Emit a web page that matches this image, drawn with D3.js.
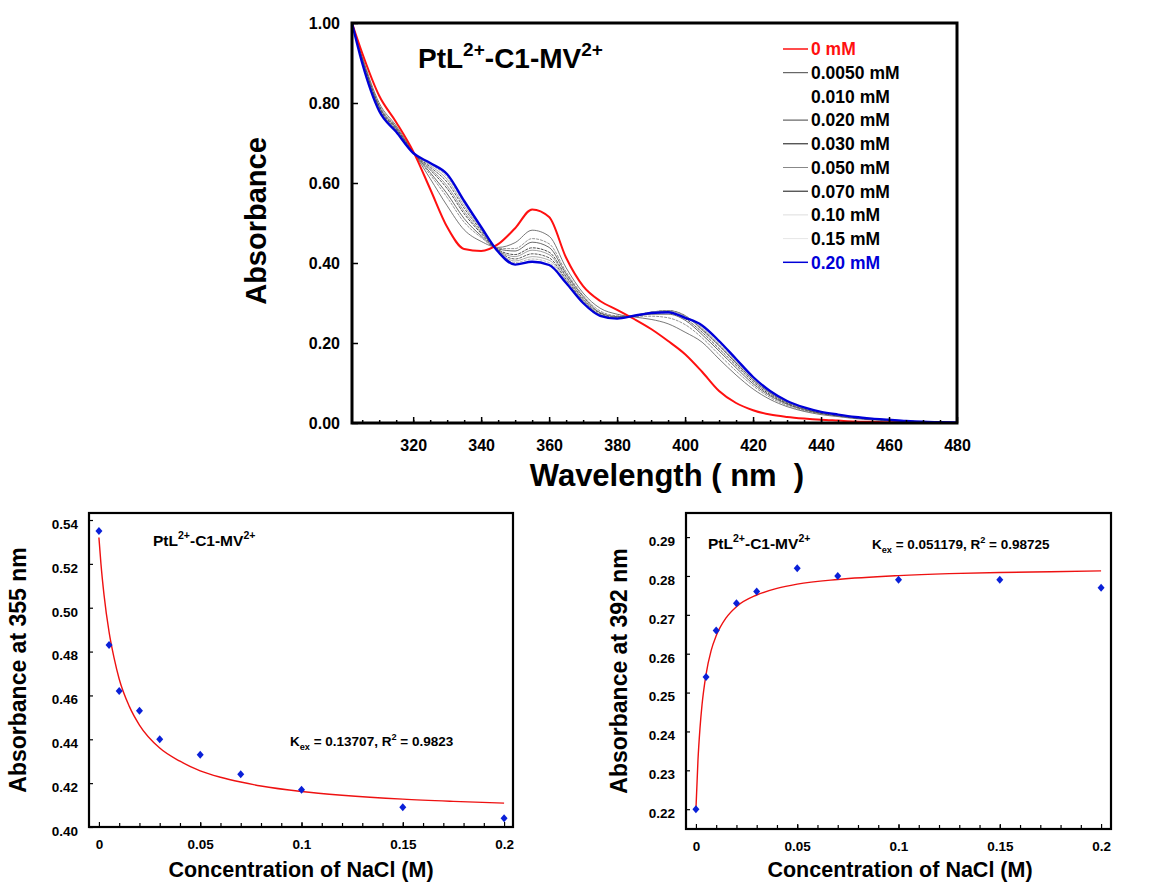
<!DOCTYPE html>
<html>
<head>
<meta charset="utf-8">
<script src="https://cdn.jsdelivr.net/npm/d3@7"></script>
<style>
  body { margin: 0; background: #fff; }
  svg { display: block; font-family: "Liberation Sans", Arial, sans-serif; font-weight: bold; }
</style>
</head>
<body>
<svg id="chart" width="1173" height="884"></svg>
<script>
// wavelength grid (nm) for the spectra
var wavelengths = [302, 305, 310, 315, 320, 325, 330, 335, 340, 345, 350, 355, 360, 365, 370, 375, 380, 385, 390,
  395, 400, 405, 410, 415, 420, 425, 430, 435, 440, 445, 450, 455, 460, 465, 470, 475, 480];

// absorbance spectra, one per NaCl concentration
var abs_0 = [1.000, 0.925, 0.818, 0.752, 0.679, 0.585, 0.490, 0.435, 0.430, 0.447, 0.487, 0.534, 0.515, 0.413, 0.342, 0.305, 0.283, 0.260, 0.235,
  0.205, 0.172, 0.128, 0.080, 0.050, 0.032, 0.021, 0.015, 0.011, 0.008, 0.006, 0.004, 0.003, 0.002, 0.002, 0.001, 0.001, 0.000];
var abs_0005 = [1.000, 0.916, 0.800, 0.743, 0.678, 0.611, 0.543, 0.483, 0.454, 0.439, 0.451, 0.482, 0.467, 0.388, 0.325, 0.287, 0.272, 0.265, 0.259,
  0.248, 0.227, 0.202, 0.160, 0.120, 0.085, 0.059, 0.041, 0.029, 0.021, 0.016, 0.011, 0.008, 0.006, 0.004, 0.002, 0.002, 0.001];
var abs_001 = [1.000, 0.913, 0.795, 0.740, 0.677, 0.621, 0.564, 0.502, 0.464, 0.436, 0.436, 0.461, 0.448, 0.378, 0.319, 0.280, 0.268, 0.267, 0.267,
  0.263, 0.246, 0.213, 0.171, 0.130, 0.093, 0.064, 0.044, 0.031, 0.023, 0.017, 0.012, 0.009, 0.006, 0.004, 0.003, 0.002, 0.001];
var abs_002 = [1.000, 0.911, 0.792, 0.738, 0.677, 0.626, 0.573, 0.511, 0.468, 0.435, 0.430, 0.452, 0.439, 0.373, 0.316, 0.276, 0.266, 0.267, 0.272,
  0.272, 0.257, 0.221, 0.180, 0.138, 0.098, 0.068, 0.047, 0.033, 0.024, 0.018, 0.013, 0.009, 0.007, 0.004, 0.003, 0.002, 0.001];
var abs_003 = [1.000, 0.908, 0.789, 0.735, 0.676, 0.633, 0.586, 0.523, 0.474, 0.433, 0.421, 0.438, 0.427, 0.367, 0.311, 0.274, 0.264, 0.268, 0.274,
  0.276, 0.261, 0.227, 0.186, 0.144, 0.103, 0.071, 0.049, 0.035, 0.025, 0.019, 0.013, 0.010, 0.007, 0.005, 0.003, 0.002, 0.001];
var abs_005 = [1.000, 0.907, 0.787, 0.734, 0.676, 0.636, 0.593, 0.529, 0.477, 0.432, 0.416, 0.432, 0.421, 0.364, 0.309, 0.271, 0.263, 0.269, 0.277,
  0.281, 0.269, 0.232, 0.193, 0.149, 0.107, 0.074, 0.051, 0.036, 0.026, 0.020, 0.014, 0.010, 0.007, 0.005, 0.003, 0.002, 0.001];
var abs_007 = [1.000, 0.905, 0.785, 0.732, 0.676, 0.640, 0.602, 0.537, 0.481, 0.431, 0.410, 0.423, 0.413, 0.359, 0.306, 0.270, 0.262, 0.268, 0.277,
  0.281, 0.268, 0.234, 0.194, 0.150, 0.108, 0.075, 0.051, 0.037, 0.026, 0.020, 0.014, 0.010, 0.007, 0.005, 0.003, 0.002, 0.001];
var abs_010 = [1.000, 0.903, 0.783, 0.731, 0.676, 0.644, 0.609, 0.543, 0.484, 0.430, 0.405, 0.416, 0.407, 0.356, 0.304, 0.269, 0.262, 0.268, 0.277,
  0.280, 0.267, 0.236, 0.196, 0.152, 0.109, 0.076, 0.052, 0.037, 0.027, 0.020, 0.014, 0.010, 0.008, 0.005, 0.003, 0.002, 0.001];
var abs_015 = [1.000, 0.902, 0.781, 0.729, 0.675, 0.647, 0.615, 0.549, 0.487, 0.429, 0.401, 0.410, 0.401, 0.353, 0.302, 0.268, 0.261, 0.268, 0.277,
  0.280, 0.267, 0.238, 0.199, 0.155, 0.111, 0.077, 0.053, 0.038, 0.027, 0.020, 0.014, 0.011, 0.008, 0.005, 0.003, 0.002, 0.001];
var abs_020 = [1.000, 0.900, 0.780, 0.728, 0.675, 0.650, 0.622, 0.555, 0.490, 0.428, 0.396, 0.403, 0.395, 0.350, 0.300, 0.268, 0.261, 0.268, 0.275,
  0.277, 0.263, 0.244, 0.205, 0.160, 0.115, 0.080, 0.055, 0.039, 0.028, 0.021, 0.015, 0.011, 0.008, 0.005, 0.003, 0.002, 0.001];

var legend_labels = ["0 mM", "0.0050 mM", "0.010 mM", "0.020 mM", "0.030 mM", "0.050 mM", "0.070 mM", "0.10 mM", "0.15 mM", "0.20 mM"];
var spectra = [abs_0, abs_0005, abs_001, abs_002, abs_003, abs_005, abs_007, abs_010, abs_015, abs_020];

// titration points (NaCl in M)
var nacl = [0, 0.005, 0.01, 0.02, 0.03, 0.05, 0.07, 0.1, 0.15, 0.2];
var a355 = [0.535, 0.483, 0.462, 0.453, 0.440, 0.433, 0.424, 0.417, 0.409, 0.404];
var a392 = [0.220, 0.254, 0.266, 0.273, 0.276, 0.282, 0.280, 0.279, 0.279, 0.277];

// fitted curves
var fit355_x = [0, 0.001, 0.0025, 0.005, 0.0075, 0.01, 0.015, 0.02, 0.03, 0.04, 0.05, 0.06, 0.07, 0.08, 0.1, 0.12, 0.15, 0.175, 0.2];
var fit355_y = [0.532, 0.520, 0.506, 0.489, 0.477, 0.4675, 0.455, 0.4465, 0.436, 0.430, 0.4256, 0.4227, 0.4205, 0.4187, 0.4162, 0.4145, 0.4127, 0.4117, 0.4109];
var fit392_x = [0, 0.001, 0.002, 0.003, 0.005, 0.0075, 0.01, 0.015, 0.02, 0.03, 0.04, 0.05, 0.07, 0.1, 0.125, 0.15, 0.175, 0.2];
var fit392_y = [0.220, 0.2325, 0.2408, 0.2468, 0.2547, 0.2608, 0.2646, 0.2693, 0.2721, 0.2751, 0.2768, 0.2779, 0.2791, 0.2801, 0.2806, 0.2809, 0.2811, 0.2813];

var lineColors = ["#ff1010", "#555", "#777", "#444", "#222", "#888", "#333", "#999", "#aaa", "#0000d8"];
var legendColors = ["#ff1010", "#444", "#fff", "#444", "#111", "#888", "#111", "#ddd", "#e6e6e6", "#0000d8"];
var lineWidths = [2, 0.8, 0.8, 0.8, 0.8, 0.8, 0.8, 0.8, 0.8, 2.4];

var svg = d3.select("#chart");

// text with sub/superscripts; parts = [[text, 0 | 1 sup | -1 sub]]
function richText(g, x, y, size, parts, anchor) {
  var t = g.append("text").attr("x", x).attr("y", y)
    .attr("font-size", size).attr("text-anchor", anchor || "start");
  var shift = 0;
  parts.forEach(function (p) {
    var s = t.append("tspan").text(p[0]);
    var target = p[1] == 1 ? -0.42 * size : (p[1] == -1 ? 0.3 * size : 0);
    s.attr("dy", target - shift);
    if (p[1] != 0) s.attr("font-size", size * 0.68);
    shift = target;
  });
  return t;
}

var titleParts = [["PtL", 0], ["2+", 1], ["-C1-MV", 0], ["2+", 1]];

// ---------------- top spectra chart ----------------
(function () {
  var x = d3.scaleLinear().domain([302, 480]).range([352, 957]);
  var y = d3.scaleLinear().domain([0, 1]).range([423, 23]);
  var g = svg.append("g");

  var line = d3.line()
    .x(function (d, i) { return x(wavelengths[i]); })
    .y(function (d) { return y(d); })
    .curve(d3.curveMonotoneX);

  var order = [1, 2, 3, 4, 5, 6, 7, 8, 0, 9];
  order.forEach(function (k) {
    g.append("path")
      .datum(spectra[k])
      .attr("fill", "none")
      .attr("stroke", lineColors[k])
      .attr("stroke-width", lineWidths[k])
      .attr("stroke-dasharray", (k > 0 && k < 9 && k % 2 == 0) ? "3,1" : null)
      .attr("d", line);
  });

  g.append("g").attr("transform", "translate(0,423)")
    .call(d3.axisBottom(x).tickValues(d3.range(320, 481, 20)).tickSize(-6).tickPadding(17));
  g.append("g").attr("transform", "translate(0,423)")
    .call(d3.axisBottom(x).tickValues(d3.range(305, 480, 5)).tickSize(-3).tickFormat(""));
  g.append("g").attr("transform", "translate(352,0)")
    .call(d3.axisLeft(y).tickValues([0, 0.2, 0.4, 0.6, 0.8, 1]).tickFormat(d3.format(".2f")).tickSize(-6).tickPadding(12));
  g.selectAll(".domain").remove();
  g.selectAll(".tick line").attr("stroke", "#000").attr("stroke-width", 1.5);
  g.selectAll(".tick text").attr("font-size", 16).attr("font-family", null).attr("fill", "#000");

  g.append("rect").attr("x", 352).attr("y", 23).attr("width", 605).attr("height", 400)
    .attr("fill", "none").attr("stroke", "#000").attr("stroke-width", 3);

  richText(g, 418, 68, 28, titleParts);

  g.append("text").attr("transform", "translate(266,221) rotate(-90)")
    .attr("text-anchor", "middle").attr("font-size", 29).text("Absorbance");
  g.append("text").attr("x", 667).attr("y", 486).attr("text-anchor", "middle")
    .attr("font-size", 31).attr("xml:space", "preserve").style("white-space", "pre")
    .text("Wavelength ( nm  )");

  var leg = g.append("g");
  legend_labels.forEach(function (lab, i) {
    var yy = 49 + i * 23.7;
    leg.append("line").attr("x1", 783).attr("x2", 808).attr("y1", yy).attr("y2", yy)
      .attr("stroke", legendColors[i]).attr("stroke-width", i == 0 || i == 9 ? 1.5 : 1);
    leg.append("text").attr("x", 811).attr("y", yy).attr("dy", "0.36em")
      .attr("font-size", 17.5)
      .attr("fill", i == 0 ? "#ff1010" : (i == 9 ? "#0000d8" : "#000"))
      .text(lab);
  });
})();

// ---------------- bottom titration charts ----------------
function titration(opt) {
  var g = svg.append("g");
  var x = d3.scaleLinear().domain(opt.xd).range([opt.left, opt.right]);
  var y = d3.scaleLinear().domain(opt.yd).range([opt.bottom, opt.top]);

  g.append("g").attr("transform", "translate(0," + opt.bottom + ")")
    .call(d3.axisBottom(x).tickValues([0, 0.05, 0.1, 0.15, 0.2]).tickFormat(d3.format("")).tickSize(-5).tickPadding(12));
  g.append("g").attr("transform", "translate(0," + opt.bottom + ")")
    .call(d3.axisBottom(x).tickValues(d3.range(0.01, 0.2, 0.01)).tickSize(-4).tickFormat(""));
  var ya = g.append("g").attr("transform", "translate(" + opt.left + ",0)")
    .call(d3.axisLeft(y).tickValues(opt.yticks).tickFormat(d3.format(".2f")).tickSize(-4).tickPadding(11));
  g.selectAll(".domain").remove();
  g.selectAll(".tick line").attr("stroke", "#000").attr("stroke-width", 1.2);
  g.selectAll(".tick text").attr("font-size", 13.5).attr("font-family", null).attr("fill", "#000");
  ya.selectAll(".tick text").attr("dy", "0.62em");

  g.append("rect").attr("x", opt.left).attr("y", opt.top)
    .attr("width", opt.right - opt.left).attr("height", opt.bottom - opt.top)
    .attr("fill", "none").attr("stroke", "#000").attr("stroke-width", 2.2);

  var fit = d3.line()
    .x(function (d, i) { return x(opt.fx[i]); })
    .y(function (d) { return y(d); })
    .curve(d3.curveMonotoneX);
  g.append("path").datum(opt.fy).attr("fill", "none").attr("stroke", "#ee1111")
    .attr("stroke-width", 1.4).attr("d", fit);

  g.selectAll("path.pt").data(opt.py).enter().append("path")
    .attr("class", "pt")
    .attr("fill", "#0a20d8")
    .attr("d", function (d, i) {
      var cx = x(nacl[i]), cy = y(d);
      return "M" + cx + "," + (cy - 4) + "L" + (cx + 3.5) + "," + cy + "L" + cx + "," + (cy + 4) + "L" + (cx - 3.5) + "," + cy + "Z";
    });

  richText(g, opt.tx, opt.ty, 15.5, titleParts);
  richText(g, opt.kx, opt.ky, 13.5, [["K", 0], ["ex", -1], [opt.ktext, 0], ["2", 1], [opt.rtext, 0]]);

  g.append("text").attr("transform", "translate(" + opt.ylx + "," + ((opt.top + opt.bottom) / 2) + ") rotate(-90)")
    .attr("text-anchor", "middle").attr("font-size", 23).text(opt.ylabel);
  g.append("text").attr("x", opt.xlx).attr("y", 877).attr("text-anchor", "middle")
    .attr("font-size", 21.5).text("Concentration of NaCl (M)");
}

titration({
  left: 89, right: 513, top: 513, bottom: 827,
  xd: [-0.0049, 0.2044], yd: [0.40, 0.5432],
  yticks: [0.40, 0.42, 0.44, 0.46, 0.48, 0.50, 0.52, 0.54],
  fx: fit355_x, fy: fit355_y, py: a355,
  tx: 153, ty: 546, kx: 290, ky: 746,
  ktext: " = 0.13707, R", rtext: " = 0.9823",
  ylx: 26, ylabel: "Absorbance at 355 nm", xlx: 301
});

titration({
  left: 686, right: 1111, top: 513, bottom: 829,
  xd: [-0.0049, 0.2049], yd: [0.2149, 0.2962],
  yticks: [0.22, 0.23, 0.24, 0.25, 0.26, 0.27, 0.28, 0.29],
  fx: fit392_x, fy: fit392_y, py: a392,
  tx: 708, ty: 549, kx: 872, ky: 549,
  ktext: " = 0.051179, R", rtext: " = 0.98725",
  ylx: 627, ylabel: "Absorbance at 392 nm", xlx: 900
});
</script>
</body>
</html>
